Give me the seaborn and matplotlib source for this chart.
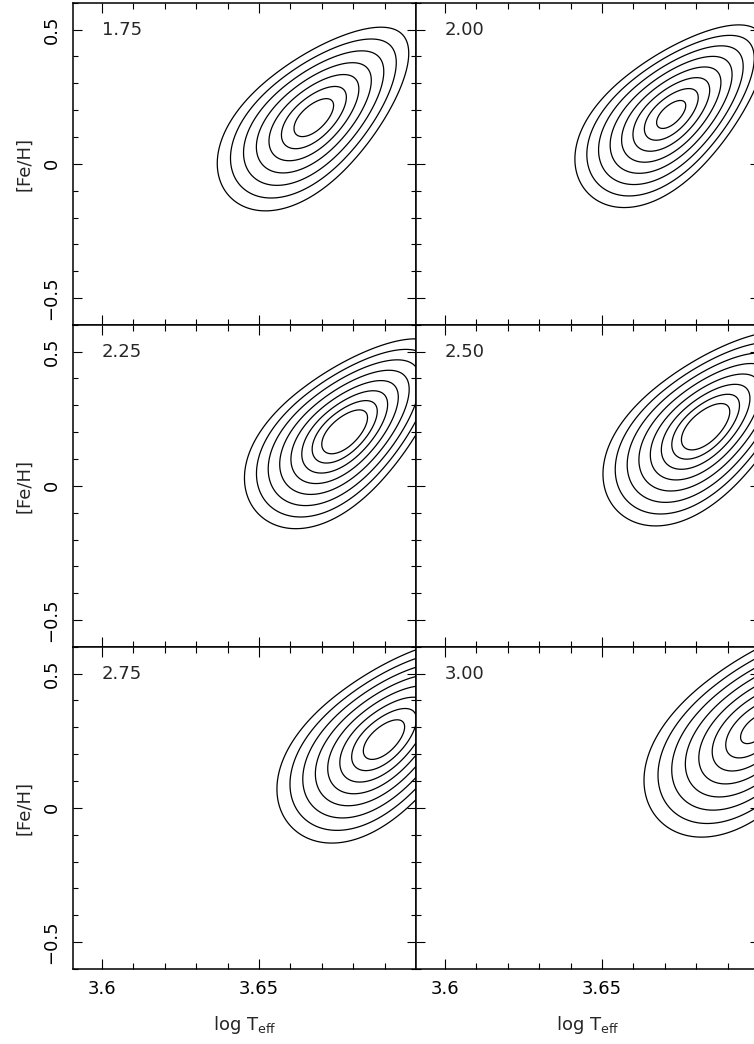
import numpy as np
import matplotlib
matplotlib.use("Agg")
import matplotlib.pyplot as plt
from matplotlib.ticker import MultipleLocator, FuncFormatter
import seaborn as sns

# log g of each slice, panels row by row
logg_labels = ["1.75", "2.00", "2.25", "2.50", "2.75", "3.00"]
# best-fit point of each slice
teff_centre = [3.6673, 3.6719, 3.6771, 3.6828, 3.6896, 3.6990]
feh_centre = [0.171, 0.183, 0.200, 0.219, 0.253, 0.295]
# width of the chi2 valley and chi2 at the slice minimum
valley_scale = [1.00, 0.88, 0.90, 0.92, 0.97, 1.03]
chi2_min = [0.0, 0.69, -1.49, -1.75, -0.36, 0.9]
n_contours = [7, 8, 8, 8, 8, 8]
# delta chi2 of the 1..8 sigma contours (two parameters)
dchi2_levels = [2.30, 6.18, 11.83, 19.33, 28.74, 40.09, 53.38, 68.72]

# valley shape, shared by all slices
sig_major, sig_minor = 16.2, 8.0
tilt_deg = 43.0
egg = 0.025
skew = 0.03


def chi2_surface(T, F, i):
    s = valley_scale[i]
    dx = (T - teff_centre[i]) * 3146.0
    dy = (F - feh_centre[i]) * 268.4
    c, sn = np.cos(np.radians(tilt_deg)), np.sin(np.radians(tilt_deg))
    a = dx * c + dy * sn
    b = dy * c - dx * sn
    an = a / (sig_major * s * np.where(a > 0, 1 + skew, 1 - skew))
    bn = b / (sig_minor * s * np.exp(-egg * an))
    return chi2_min[i] + an**2 + bn**2


sns.set_theme(style="ticks")
plt.rcParams.update({
    "font.family": ["DejaVu Sans"],
    "font.size": 13,
    "axes.linewidth": 1.1,
    "axes.edgecolor": "black",
    "xtick.color": "black",
    "ytick.color": "black",
})

fig = plt.figure(figsize=(7.54, 10.44), dpi=100)
T, F = np.meshgrid(np.linspace(3.585, 3.71, 700), np.linspace(-0.65, 0.65, 700))

lefts = [0.09682, 0.55172]
bottoms = [0.68870, 0.38027, 0.07184]
w, h = 0.45491, 0.30870
fmt = FuncFormatter(lambda v, p: "%g" % round(v, 3) if abs(v) > 1e-9 else "0")
yfmt = FuncFormatter(lambda v, p: ("%g" % v).replace("-", "\u2212") if abs(v) > 1e-9 else "0")

for i, lab in enumerate(logg_labels):
    row, col = divmod(i, 2)
    ax = fig.add_axes([lefts[col], bottoms[row], w, h])
    ax.contour(T, F, chi2_surface(T, F, i), levels=dchi2_levels[:n_contours[i]],
               colors="black", linewidths=0.9)
    ax.set_xlim(3.5909, 3.6999)
    ax.set_ylim(-0.6, 0.6)
    ax.xaxis.set_major_locator(MultipleLocator(0.05))
    ax.xaxis.set_minor_locator(MultipleLocator(0.01))
    ax.yaxis.set_major_locator(MultipleLocator(0.5))
    ax.yaxis.set_minor_locator(MultipleLocator(0.1))
    ax.xaxis.set_major_formatter(fmt)
    ax.yaxis.set_major_formatter(yfmt)
    ax.tick_params(which="both", direction="in", top=True, right=True, width=0.8,
                   labelbottom=(row == 2), labelleft=(col == 0), labelsize=13)
    ax.tick_params(axis="x", which="major", length=7.2, pad=8)
    ax.tick_params(axis="x", which="minor", length=4.0)
    ax.tick_params(axis="y", which="major", length=6.5, pad=9, labelrotation=90)
    ax.tick_params(axis="y", which="minor", length=3.3)
    for t in ax.get_yticklabels():
        t.set_va("center")
    ax.text(3.6, 0.5, lab, ha="left", va="center", fontsize=13)
    if col == 0:
        ax.set_ylabel("[Fe/H]", fontsize=13, va="center")
        ax.yaxis.set_label_coords(-0.143, 0.5)
    if row == 2:
        ax.set_xlabel(r"log T$_{\mathregular{eff}}$", fontsize=13, va="center")
        ax.xaxis.set_label_coords(0.5, -0.174)

fig.savefig("out.png", dpi=100)
